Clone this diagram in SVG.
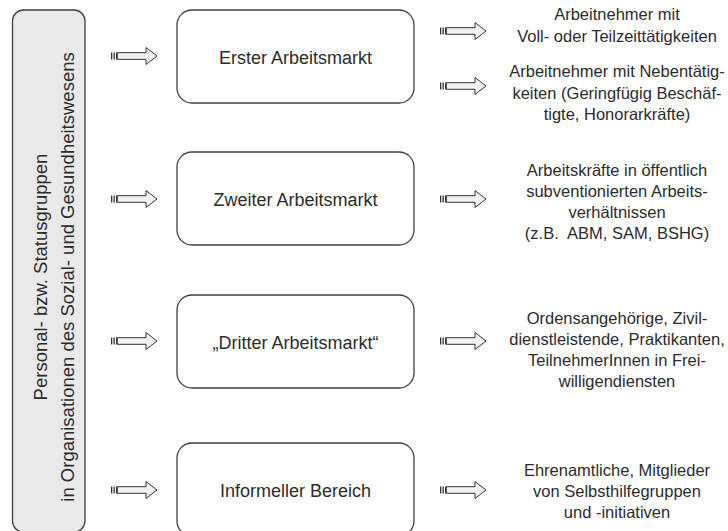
<svg xmlns="http://www.w3.org/2000/svg" width="728" height="531" viewBox="0 0 728 531">
  <style>
    .box { fill: #ffffff; stroke: #404040; stroke-width: 1.3; }
    .bar { fill: #e9e9e9; stroke: #404040; stroke-width: 1.3; }
    .t { font-family: "Liberation Sans", Arial, sans-serif; fill: #2b2b2b; text-anchor: middle; }
    .bt { font-size: 18px; }
    .rt { font-size: 16.5px; }
    .lt { font-size: 18.5px; }
    .arr { fill: #f2f2f2; stroke: #333333; stroke-width: 1; stroke-linejoin: miter; }
    .stripe { fill: #333333; }
  </style>
  <defs>
    <g id="arrow">
      <rect class="stripe" x="0" y="-3.5" width="1.3" height="7"/>
      <rect class="stripe" x="2.5" y="-3.5" width="1.3" height="7"/>
      <rect class="stripe" x="5" y="-3.5" width="1.3" height="7"/>
      <polygon class="arr" points="6.3,-3.3 35,-3.3 35,-8.5 46,0 35,8.5 35,3.3 6.3,3.3"/>
    </g>
  </defs>

  <g id="left-bar">
    <rect class="bar" x="12.5" y="10" width="72.5" height="522" rx="11" ry="11"/>
    <g transform="translate(47,277) rotate(-90)">
      <text class="t lt" x="0" y="0">Personal- bzw. Statusgruppen</text>
      <text class="t lt" x="0" y="26.5">in Organisationen des Sozial- und Gesundheitswesens</text>
    </g>
  </g>

  <g id="box1">
    <rect class="box" x="177" y="10" width="237" height="93" rx="15" ry="15"/>
    <text class="t bt" x="295.5" y="63.5">Erster Arbeitsmarkt</text>
  </g>
  <g id="box2">
    <rect class="box" x="177" y="152" width="237" height="93" rx="15" ry="15"/>
    <text class="t bt" x="295.5" y="205.5">Zweiter Arbeitsmarkt</text>
  </g>
  <g id="box3">
    <rect class="box" x="177" y="295" width="237" height="93" rx="15" ry="15"/>
    <text class="t bt" x="295.5" y="348.5">„Dritter Arbeitsmarkt“</text>
  </g>
  <g id="box4">
    <rect class="box" x="177" y="443" width="237" height="93" rx="15" ry="15"/>
    <text class="t bt" x="295.5" y="496.5">Informeller Bereich</text>
  </g>

  <g id="out1a">
    <text class="t rt" x="617" y="20">Arbeitnehmer mit</text>
    <text class="t rt" x="617" y="41.5">Voll- oder Teilzeittätigkeiten</text>
  </g>
  <g id="out1b">
    <text class="t rt" x="617" y="77">Arbeitnehmer mit Nebentätig-</text>
    <text class="t rt" x="617" y="98.5">keiten (Geringfügig Beschäf-</text>
    <text class="t rt" x="617" y="120">tigte, Honorarkräfte)</text>
  </g>
  <g id="out2">
    <text class="t rt" x="617" y="176">Arbeitskräfte in öffentlich</text>
    <text class="t rt" x="617" y="197">subventionierten Arbeits-</text>
    <text class="t rt" x="617" y="218">verhältnissen</text>
    <text class="t rt" x="617" y="239" xml:space="preserve">(z.B.  ABM, SAM, BSHG)</text>
  </g>
  <g id="out3">
    <text class="t rt" x="617" y="324">Ordensangehörige, Zivil-</text>
    <text class="t rt" x="617" y="345">dienstleistende, Praktikanten,</text>
    <text class="t rt" x="617" y="366">TeilnehmerInnen in Frei-</text>
    <text class="t rt" x="617" y="387">willigendiensten</text>
  </g>
  <g id="out4">
    <text class="t rt" x="617" y="476">Ehrenamtliche, Mitglieder</text>
    <text class="t rt" x="617" y="497">von Selbsthilfegruppen</text>
    <text class="t rt" x="617" y="518">und -initiativen</text>
  </g>

  <g id="connectors">
    <use href="#arrow" x="111" y="56"/>
    <use href="#arrow" x="111" y="199"/>
    <use href="#arrow" x="111" y="341"/>
    <use href="#arrow" x="111" y="490"/>
    <use href="#arrow" x="440" y="31"/>
    <use href="#arrow" x="440" y="86"/>
    <use href="#arrow" x="440" y="199"/>
    <use href="#arrow" x="440" y="341"/>
    <use href="#arrow" x="440" y="490"/>
  </g>
</svg>
